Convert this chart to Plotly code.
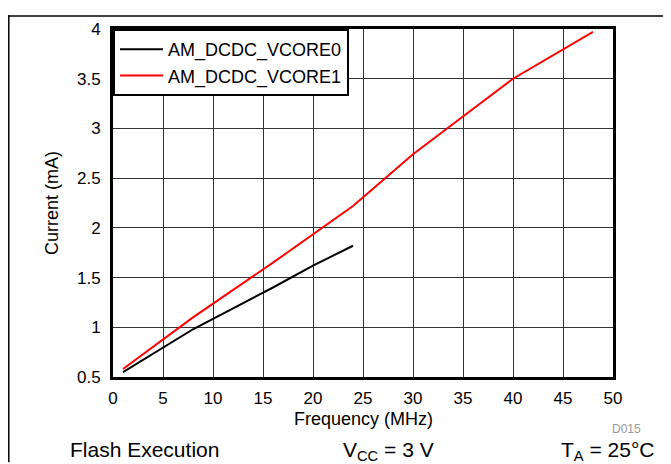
import plotly.graph_objects as go

freq0 = [1, 8, 16, 20, 24]
vcore0 = [0.55, 0.98, 1.40, 1.62, 1.82]
freq1 = [1, 8, 16, 24, 30, 40, 48]
vcore1 = [0.58, 1.10, 1.65, 2.22, 2.74, 3.50, 3.97]
xticks = [0, 5, 10, 15, 20, 25, 30, 35, 40, 45, 50]
yticks = [0.5, 1, 1.5, 2, 2.5, 3, 3.5, 4]
ytick_labels = ["0.5", "1", "1.5", "2", "2.5", "3", "3.5", "4"]

fig = go.Figure()
fig.add_trace(go.Scatter(x=freq0, y=vcore0, mode="lines", name="AM_DCDC_VCORE0",
                         line=dict(color="black", width=2)))
fig.add_trace(go.Scatter(x=freq1, y=vcore1, mode="lines", name="AM_DCDC_VCORE1",
                         line=dict(color="#ff0000", width=2)))

# page has an 8px body margin; figure coordinates are page coordinates - 8
OFF = 8
W, H = 671 - OFF, 464 - OFF
L, T = 113 - OFF, 22 - OFF
R = W - (613 - OFF)
B = H - (377 - OFF)
pw, ph = W - L - R, H - T - B

def px(xp):
    return (xp - OFF - L) / pw

def py(yp):
    return (H - B - (yp - OFF)) / ph

font = "Liberation Sans, Arial, sans-serif"
fig.update_layout(
    width=W, height=H,
    margin=dict(l=L, r=R, t=T, b=B, pad=0),
    paper_bgcolor="white", plot_bgcolor="white",
    font=dict(family=font, color="black", size=17),
    showlegend=True,
    legend=dict(x=0, y=1, xanchor="left", yanchor="top", bgcolor="white",
                bordercolor="black", borderwidth=2, font=dict(size=18),
                tracegroupgap=0, itemwidth=43),
    xaxis=dict(range=[0, 50], tickvals=xticks, showgrid=True, gridcolor="#333",
               gridwidth=1, showline=True, linecolor="black", linewidth=3, mirror=True,
               ticks="outside", ticklen=4, tickcolor="rgba(0,0,0,0)",
               zeroline=False, tickfont=dict(size=17)),
    yaxis=dict(range=[0.5, 4], tickvals=yticks, ticktext=ytick_labels, showgrid=True,
               gridcolor="#333", gridwidth=1, showline=True, linecolor="black",
               linewidth=3, mirror=True, ticks="outside", ticklen=6,
               tickcolor="rgba(0,0,0,0)",
               zeroline=False, tickfont=dict(size=17),
               title=dict(text="Current (mA)", font=dict(size=18), standoff=14)),
)

# frame lines around the figure cell
frame = dict(type="line", xref="paper", yref="paper", line=dict(color="black", width=1.5))
fig.add_shape(**frame, x0=px(OFF), x1=px(671), y0=py(OFF + 0.8), y1=py(OFF + 0.8))
fig.add_shape(**frame, x0=px(OFF + 0.8), x1=px(OFF + 0.8), y0=py(OFF), y1=py(464))
fig.add_shape(**frame, x0=px(664), x1=px(664), y0=py(OFF), y1=py(464))

fig.add_annotation(text="Frequency (MHz)", xref="paper", yref="paper", x=0.5, y=py(420),
                   xanchor="center", yanchor="middle", showarrow=False, font=dict(size=18))
fig.add_annotation(text="D015", xref="paper", yref="paper", x=px(643), y=py(430),
                   xanchor="right", yanchor="middle", showarrow=False,
                   font=dict(size=12, color="#999"))
fig.add_annotation(text="Flash Execution", xref="paper", yref="paper", x=px(68), y=py(451),
                   xanchor="left", yanchor="middle", showarrow=False, font=dict(size=21))
fig.add_annotation(text="V<sub>CC</sub> = 3 V", xref="paper", yref="paper", x=px(388), y=py(452),
                   xanchor="center", yanchor="middle", showarrow=False, font=dict(size=21))
fig.add_annotation(text="T<sub>A</sub> = 25°C", xref="paper", yref="paper", x=px(656), y=py(452),
                   xanchor="right", yanchor="middle", showarrow=False, font=dict(size=21))

fig.write_html("out.html")
